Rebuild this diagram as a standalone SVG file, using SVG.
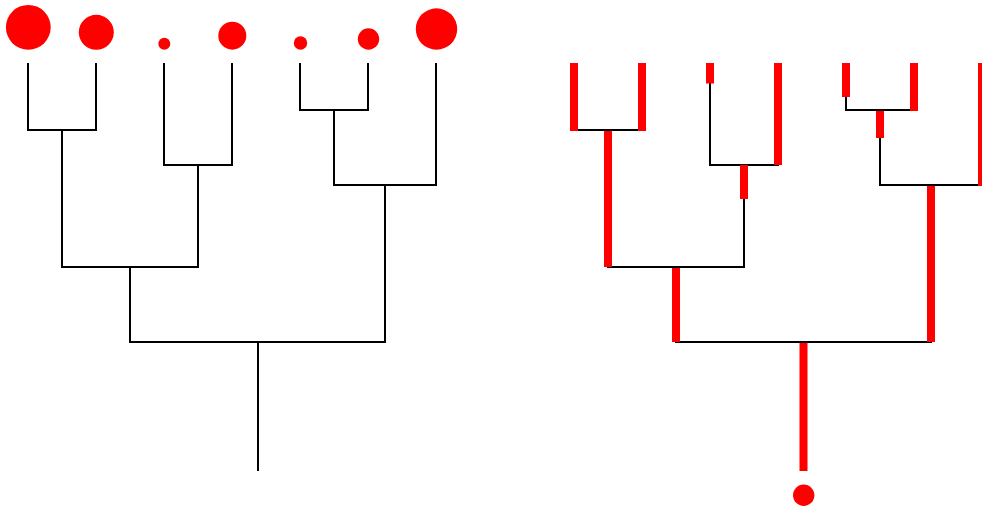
<svg xmlns="http://www.w3.org/2000/svg" width="982" height="511" viewBox="0 0 982 511">
<style>
.edge{fill:none;stroke:#000;stroke-width:2;stroke-linecap:square}
.bar{fill:none;stroke:#ff0000;stroke-width:8;stroke-linecap:butt}
.dot{fill:#ff0000}
</style>
<rect width="982" height="511" fill="#fff"/>
<g id="leaves-left">
<g id="leaf-l1"><circle class="dot" cx="28.3" cy="27.3" r="22.4"/></g>
<g id="leaf-l2"><circle class="dot" cx="96.3" cy="32.3" r="17.5"/></g>
<g id="leaf-l3"><circle class="dot" cx="164.3" cy="43.7" r="6"/></g>
<g id="leaf-l4"><circle class="dot" cx="232.3" cy="35.7" r="14"/></g>
<g id="leaf-l5"><circle class="dot" cx="300.5" cy="43" r="6.7"/></g>
<g id="leaf-l6"><circle class="dot" cx="368.5" cy="39" r="10.7"/></g>
<g id="leaf-l7"><circle class="dot" cx="436.5" cy="29" r="20.7"/></g>
</g>
<g id="connectors">
<g id="tree-left">
<path class="edge" d="M28,64V130H96V64"/>
<path class="edge" d="M164,64V165H232V64"/>
<path class="edge" d="M300,64V110H368V64"/>
<path class="edge" d="M62,130V267H198V165"/>
<path class="edge" d="M334,110V185H436V64"/>
<path class="edge" d="M130,267V342H385V185"/>
<path class="edge" d="M258,342V470"/>
</g>
<g id="tree-right">
<path class="edge" d="M574,64V130H642V64"/>
<path class="edge" d="M710,64V165H778V64"/>
<path class="edge" d="M846,64V110H914V64"/>
<path class="edge" d="M608,130V267H744V165"/>
<path class="edge" d="M880,110V185H982V64"/>
<path class="edge" d="M676,267V342H931V185"/>
<path class="edge" d="M804,342V470"/>
</g>
<g id="weights-right">
<line class="bar" x1="574" y1="63" x2="574" y2="131"/>
<line class="bar" x1="642" y1="63" x2="642" y2="131"/>
<line class="bar" x1="710" y1="63" x2="710" y2="83.5"/>
<line class="bar" x1="778" y1="63" x2="778" y2="165"/>
<line class="bar" x1="846" y1="63" x2="846" y2="97"/>
<line class="bar" x1="914" y1="63" x2="914" y2="111"/>
<line class="bar" x1="982" y1="63" x2="982" y2="186"/>
<line class="bar" x1="608" y1="131" x2="608" y2="267"/>
<line class="bar" x1="744" y1="165" x2="744" y2="199"/>
<line class="bar" x1="880" y1="111" x2="880" y2="138"/>
<line class="bar" x1="931" y1="186" x2="931" y2="342"/>
<line class="bar" x1="676" y1="268" x2="676" y2="342"/>
<line class="bar" x1="803.5" y1="343" x2="803.5" y2="471"/>
</g>
</g>
<g id="root-right"><circle class="dot" cx="803.7" cy="495.3" r="10.7"/></g>
</svg>
